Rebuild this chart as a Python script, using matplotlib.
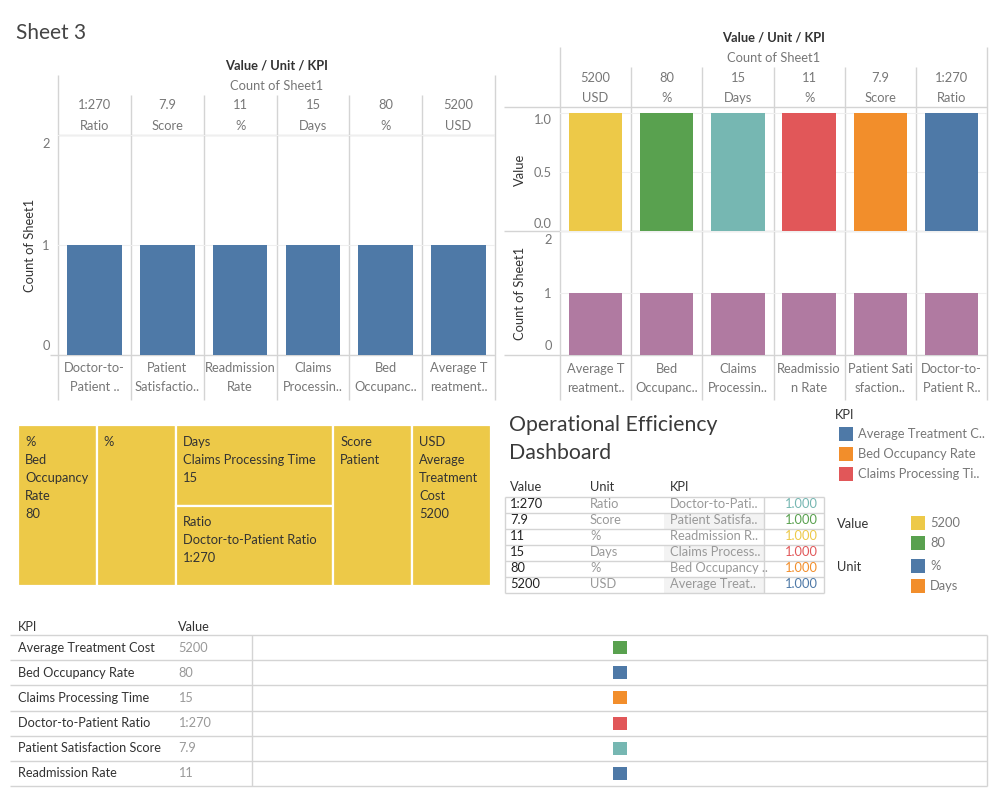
import numpy as np
import matplotlib
matplotlib.use("Agg")
import matplotlib.pyplot as plt
from matplotlib.patches import Rectangle
from matplotlib.transforms import offset_copy

W, H = 999, 799
plt.rcParams["font.family"] = ["Lato", "DejaVu Sans"]

BLUE, ORANGE, RED = "#4e79a7", "#f28e2b", "#e15759"
TEAL, GREEN, YELLOW, PURPLE = "#76b7b2", "#59a14f", "#edc948", "#b07aa1"
LINE, DARK, GREY, LGREY = "#d4d4d4", "#333333", "#777777", "#999999"
FS = 9.3

# left bar chart
left_values = ["1:270", "7.9", "11", "15", "80", "5200"]
left_units = ["Ratio", "Score", "%", "Days", "%", "USD"]
left_kpis = ["Doctor-to-\nPatient ..", "Patient\nSatisfactio..", "Readmission\nRate",
             "Claims\nProcessin..", "Bed\nOccupanc..", "Average T\nreatment.."]
left_counts = [1, 1, 1, 1, 1, 1]

# right bar chart (two panes)
right_values = ["5200", "80", "15", "11", "7.9", "1:270"]
right_units = ["USD", "%", "Days", "%", "Score", "Ratio"]
right_kpis = ["Average T\nreatment..", "Bed\nOccupanc..", "Claims\nProcessin..",
              "Readmissio\nn Rate", "Patient Sati\nsfaction..", "Doctor-to-\nPatient R.."]
right_value_bars = [1.0, 1.0, 1.0, 1.0, 1.0, 1.0]
right_counts = [1, 1, 1, 1, 1, 1]
right_colors = [YELLOW, GREEN, TEAL, RED, ORANGE, BLUE]

# treemap
tm_labels = ["%\nBed\nOccupancy\nRate\n80", "%", "Days\nClaims Processing Time\n15",
             "Ratio\nDoctor-to-Patient Ratio\n1:270", "Score\nPatient",
             "USD\nAverage\nTreatment\nCost\n5200"]
tm_counts = [1, 1, 1, 1, 1, 1]
tm_columns = [[0], [1], [2, 3], [4], [5]]

# middle text table
mt_values = ["1:270", "7.9", "11", "15", "80", "5200"]
mt_units = ["Ratio", "Score", "%", "Days", "%", "USD"]
mt_kpis = ["Doctor-to-Pati..", "Patient Satisfa..", "Readmission R..",
           "Claims Process..", "Bed Occupancy ..", "Average Treat.."]
mt_measure = [1.0, 1.0, 1.0, 1.0, 1.0, 1.0]
mt_colors = [TEAL, GREEN, YELLOW, RED, ORANGE, BLUE]

# legends
lg_kpi = ["Average Treatment C..", "Bed Occupancy Rate", "Claims Processing Ti.."]
lg_kpi_colors = [BLUE, ORANGE, RED]
lg_value = ["5200", "80"]
lg_value_colors = [YELLOW, GREEN]
lg_unit = ["%", "Days"]
lg_unit_colors = [BLUE, ORANGE]

# bottom table
bt_kpis = ["Average Treatment Cost", "Bed Occupancy Rate", "Claims Processing Time",
           "Doctor-to-Patient Ratio", "Patient Satisfaction Score", "Readmission Rate"]
bt_values = ["5200", "80", "15", "1:270", "7.9", "11"]
bt_colors = [GREEN, BLUE, ORANGE, RED, TEAL, BLUE]


def box(x0, y0, x1, y1):
    return [x0 / W, 1 - y1 / H, (x1 - x0) / W, (y1 - y0) / H]


fig = plt.figure(figsize=(W / 100, H / 100), dpi=100)
bg = fig.add_axes([0, 0, 1, 1])
bg.set_xlim(0, W)
bg.set_ylim(H, 0)
bg.axis("off")


def hline(y, x0, x1, c=LINE):
    bg.plot([x0, x1], [y, y], color=c, lw=1, solid_capstyle="butt")


def vline(x, y0, y1, c=LINE):
    bg.plot([x, x], [y0, y1], color=c, lw=1, solid_capstyle="butt")


def txt(x, y, s, **kw):
    kw.setdefault("fontsize", FS)
    kw.setdefault("color", DARK)
    kw.setdefault("va", "center")
    bg.text(x, y, s, **kw)


def bar_pane(x0, y0, x1, y1, heights, colors, ylim, ticks, ticklabels, nudge=3):
    ax = fig.add_axes(box(x0, y0, x1, y1))
    ax.set_facecolor("none")
    n = len(heights)
    for t in ticks:
        ax.axhline(t, color="#efefef", lw=0.8, zorder=1)
    ax.bar(np.arange(n), heights, width=0.75, color=colors, zorder=2)
    ax.set_xlim(-0.5, n - 0.5)
    ax.set_ylim(*ylim)
    ax.set_xticks([])
    ax.set_yticks(ticks)
    ax.set_yticklabels(ticklabels, fontsize=FS, color=GREY)
    ax.tick_params(length=0, pad=6)
    labs = ax.get_yticklabels()
    labs[0].set_va("bottom")
    labs[0].set_transform(offset_copy(labs[0].get_transform(), fig=fig, y=nudge, units="dots"))
    labs[-1].set_va("top")
    labs[-1].set_transform(offset_copy(labs[-1].get_transform(), fig=fig, y=-nudge, units="dots"))
    for s in ax.spines.values():
        s.set_visible(False)
    return ax


def headers(x0, x1, n, vals, units, kpis, ytitle, yvals, ybot, ytop_outer, ytop_inner, ybottom):
    colw = (x1 - x0) / n
    xc = (x0 + x1) / 2
    txt(xc, ytitle, "Value / Unit / KPI", ha="center", fontweight="bold")
    txt(xc, ytitle + 20, "Count of Sheet1", ha="center", color=GREY)
    for k in range(n + 1):
        vline(x0 + k * colw, ytop_outer if k in (0, n) else ytop_inner, ybottom)
    for i in range(n):
        cx = x0 + (i + 0.5) * colw
        txt(cx, yvals, vals[i], ha="center", color=GREY)
        txt(cx, yvals + 20.5, units[i], ha="center", color=GREY)
        for j, line in enumerate(kpis[i].split("\n")):
            txt(cx, ybot + j * 18.5, line, ha="center", color=GREY)


# ---- Sheet 3 (left bar chart)
txt(16, 33, "Sheet 3", fontsize=15, color="#444444")
bar_pane(58, 135, 495, 355, left_counts, BLUE, (0, 2), [0, 1, 2], ["0", "1", "2"], nudge=3)
headers(58, 495, 6, left_values, left_units, left_kpis, 66, 105, 368.5, 75, 95, 400)
hline(135, 58, 495)
hline(355, 50, 495)
txt(30, 245, "Count of Sheet1", ha="center", rotation=90)

# ---- right bar chart
bar_pane(560, 107, 987, 231, right_value_bars, right_colors, (0, 1.05),
         [0, 0.5, 1.0], ["0.0", "0.5", "1.0"], nudge=1)
bar_pane(560, 231, 987, 355, right_counts, PURPLE, (0, 2), [0, 1, 2], ["0", "1", "2"], nudge=3)
headers(560, 987, 6, right_values, right_units, right_kpis, 38, 78, 369, 47, 67, 400)
for y in (107, 231, 355):
    hline(y, 504, 987)
txt(520, 170, "Value", ha="center", rotation=90)
txt(520, 293, "Count of Sheet1", ha="center", rotation=90)

# ---- treemap
tx0, ty0, tx1, ty1 = 18, 425, 491, 586
tm = fig.add_axes(box(tx0, ty0, tx1, ty1))
total = sum(tm_counts)
tm.set_xlim(0, total)
tm.set_ylim(1, 0)
tm.axis("off")
xpos = 0.0
for col in tm_columns:
    cw = sum(tm_counts[i] for i in col)
    ypos = 0.0
    for i in col:
        ch = tm_counts[i] / cw
        tm.add_patch(Rectangle((xpos, ypos), cw, ch, facecolor=YELLOW,
                               edgecolor="white", lw=1.6))
        for j, line in enumerate(tm_labels[i].split("\n")):
            tr = offset_copy(tm.transData, fig=fig, x=7, y=-17 - 18 * j, units="dots")
            tm.text(xpos, ypos, line, transform=tr, fontsize=FS, color=DARK,
                    va="center", ha="left")
        ypos += ch
    xpos += cw

# ---- dashboard title + middle table
txt(509, 425, "Operational Efficiency", fontsize=15.3, color="#3a3a3a")
txt(509, 453, "Dashboard", fontsize=15.3, color="#3a3a3a")
txt(510, 487, "Value")
txt(590, 487, "Unit")
txt(670, 487, "KPI")
rows = len(mt_values)
ry = [496.5 + 16 * k for k in range(rows + 1)]
for k in range(rows):
    if k % 2 == 1:
        bg.add_patch(Rectangle((664, ry[k]), 100, 16, facecolor="#f3f3f3", lw=0))
for y in ry:
    hline(y, 505, 824)
vline(505, ry[0], ry[-1])
vline(764, ry[0], ry[-1])
vline(824, ry[0], ry[-1])
for k in range(rows):
    yc = (ry[k] + ry[k + 1]) / 2
    txt(510, yc, mt_values[k], color="#222222")
    txt(590, yc, mt_units[k], color=LGREY)
    txt(670, yc, mt_kpis[k], color=LGREY)
    txt(818, yc, f"{mt_measure[k]:.3f}", ha="right", color=mt_colors[k])

# ---- legends
txt(835, 415, "KPI")
for k, (lab, c) in enumerate(zip(lg_kpi, lg_kpi_colors)):
    yc = 434 + 20 * k
    bg.add_patch(Rectangle((839, yc - 7), 14, 14, facecolor=c, lw=0))
    txt(858, yc, lab, color=GREY)
txt(837, 524, "Value")
for k, (lab, c) in enumerate(zip(lg_value, lg_value_colors)):
    yc = 523 + 20 * k
    bg.add_patch(Rectangle((911, yc - 7), 14, 14, facecolor=c, lw=0))
    txt(930, yc, lab, color=GREY)
txt(837, 567, "Unit")
for k, (lab, c) in enumerate(zip(lg_unit, lg_unit_colors)):
    yc = 566 + 20 * k
    bg.add_patch(Rectangle((911, yc - 7), 14, 14, facecolor=c, lw=0))
    txt(930, yc, lab, color=GREY)

# ---- bottom table
bx0, bx1, by0, by1 = 253, 987, 635, 786
txt(18, 627, "KPI", fontsize=9.2)
txt(178, 627, "Value", fontsize=9.2)
n = len(bt_kpis)
pitch = (by1 - by0) / n
for k in range(n + 1):
    hline(by0 + k * pitch, 10, bx1)
vline(252, by0, by1)
vline(bx1, by0, by1)
for k in range(n):
    yc = by0 + (k + 0.5) * pitch
    txt(18, yc, bt_kpis[k], fontsize=9.2)
    txt(178, yc, bt_values[k], fontsize=9.2, color=LGREY)
bt = fig.add_axes(box(bx0, by0, bx1, by1))
bt.set_xlim(-1, 1)
bt.set_ylim(n, 0)
bt.axis("off")
bt.scatter(np.zeros(n), np.arange(n) + 0.5, marker="s", s=88, c=bt_colors, lw=0)

fig.savefig("out.png", dpi=100)
